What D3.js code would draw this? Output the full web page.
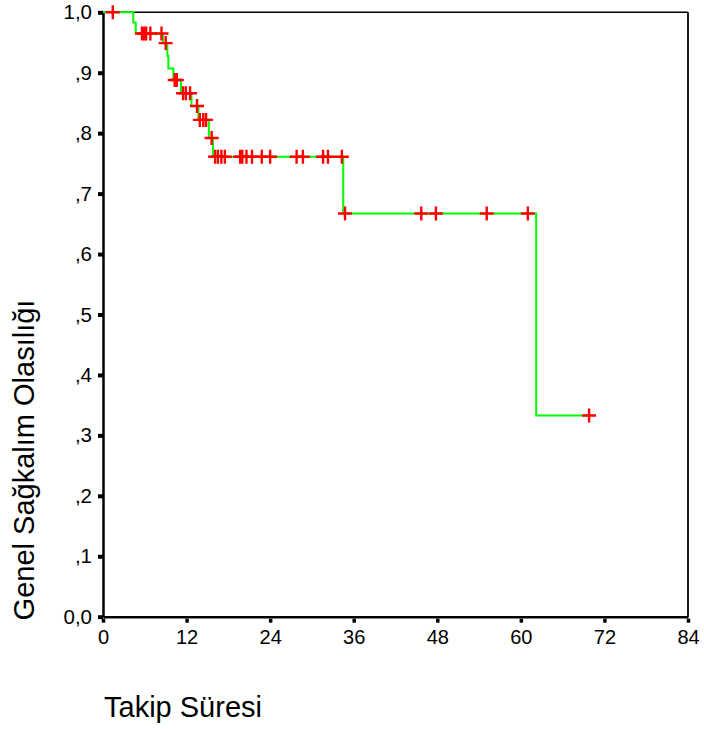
<!DOCTYPE html>
<html>
<head>
<meta charset="utf-8">
<script src="https://cdn.jsdelivr.net/npm/d3@7.9.0/dist/d3.min.js"></script>
<style>
  body { margin: 0; background: #fff; }
  text { font-family: Arial, "Liberation Sans", sans-serif; fill: #000; }
</style>
</head>
<body>
<svg id="chart" width="704" height="729"></svg>
<script>
// step points of the survival curve (months, probability)
const stepTimes = [0, 4.35, 4.7, 8.6, 9.24, 9.38, 10.1, 11.2, 12.7, 13.7, 15.2, 15.8, 34.5, 62.2, 69.8];
const stepSurv  = [1.0, 0.983, 0.965, 0.949, 0.928, 0.907, 0.888, 0.866, 0.845, 0.822, 0.792, 0.761, 0.667, 0.333, 0.333];

// censored cases
const censorTimes = [1.4, 5.6, 5.9, 6.2, 6.8, 8.4, 9.0, 10.3, 10.6, 11.5, 11.9, 12.5, 13.5, 13.9, 14.4, 14.8, 15.6,
  16.1, 16.5, 17.0, 17.5, 19.7, 20.0, 20.6, 21.4, 22.8, 24.0, 27.8, 28.7, 31.6, 32.3, 34.3,
  34.75, 45.7, 47.8, 55.1, 61.0, 69.8];
const censorSurv = [1.0, 0.965, 0.965, 0.965, 0.965, 0.965, 0.949, 0.888, 0.888, 0.866, 0.866, 0.866, 0.845, 0.822, 0.822, 0.822, 0.792,
  0.761, 0.761, 0.761, 0.761, 0.761, 0.761, 0.761, 0.761, 0.761, 0.761, 0.761, 0.761, 0.761, 0.761, 0.761,
  0.667, 0.667, 0.667, 0.667, 0.667, 0.333];

const xTicks = [0, 12, 24, 36, 48, 60, 72, 84];
const yTicks = [0, 0.1, 0.2, 0.3, 0.4, 0.5, 0.6, 0.7, 0.8, 0.9, 1.0];
const yTickLabels = ["0,0", ",1", ",2", ",3", ",4", ",5", ",6", ",7", ",8", ",9", "1,0"];

const svg = d3.select("#chart");

const x = d3.scaleLinear().domain([0, 84]).range([103, 688]);
const y = d3.scaleLinear().domain([0, 1]).range([616.7, 12.3]);

// frame: thin top and right
svg.append("line")
  .attr("x1", x(0)).attr("x2", x(84)).attr("y1", y(1)).attr("y2", y(1))
  .attr("stroke", "#000").attr("stroke-width", 1.5);
svg.append("line")
  .attr("x1", x(84)).attr("x2", x(84)).attr("y1", y(1)).attr("y2", y(0))
  .attr("stroke", "#000").attr("stroke-width", 1.8);

// axes
const xAxis = svg.append("g")
  .attr("transform", `translate(0,${y(0)})`)
  .call(d3.axisBottom(x).tickValues(xTicks).tickSize(6).tickSizeOuter(0).tickPadding(7));
xAxis.select(".domain").attr("stroke-width", 2.5);
xAxis.selectAll(".tick line").attr("stroke-width", 3.5).attr("y1", 2);
xAxis.selectAll(".tick text").attr("font-size", 20).attr("font-family", "Arial, 'Liberation Sans', sans-serif");

const yAxis = svg.append("g")
  .attr("transform", `translate(${x(0)},0)`)
  .call(d3.axisLeft(y).tickValues(yTicks).tickFormat((d, i) => yTickLabels[i])
    .tickSize(5).tickSizeOuter(0).tickPadding(6));
yAxis.select(".domain").attr("stroke-width", 2.5);
yAxis.selectAll(".tick line").attr("stroke-width", 4);
yAxis.selectAll(".tick text").attr("font-size", 20.5).attr("font-family", "Arial, 'Liberation Sans', sans-serif");

// survival curve
const steps = stepTimes.map((t, i) => ({ t, s: stepSurv[i] }));
const line = d3.line()
  .x(d => x(d.t))
  .y(d => y(d.s))
  .curve(d3.curveStepAfter);

svg.append("path")
  .datum(steps)
  .attr("fill", "none")
  .attr("stroke", "#00ff00")
  .attr("stroke-width", 2)
  .attr("d", line);

// censor marks
const censors = censorTimes.map((t, i) => ({ t, s: censorSurv[i] }));
const h = 7;
svg.append("g")
  .selectAll("path")
  .data(censors)
  .join("path")
  .attr("d", d => {
    const cx = x(d.t), cy = y(d.s);
    return `M${cx - h},${cy}H${cx + h}M${cx},${cy - h}V${cy + h}`;
  })
  .attr("stroke", "#ff0000")
  .attr("stroke-width", 2.4)
  .attr("fill", "none");

// titles
svg.append("text")
  .attr("transform", "translate(33.5,460) rotate(-90)")
  .attr("text-anchor", "middle")
  .attr("font-size", 29)
  .text("Genel Sağkalım Olasılığı");

svg.append("text")
  .attr("x", 104)
  .attr("y", 717)
  .attr("font-size", 29)
  .text("Takip Süresi");
</script>
</body>
</html>
